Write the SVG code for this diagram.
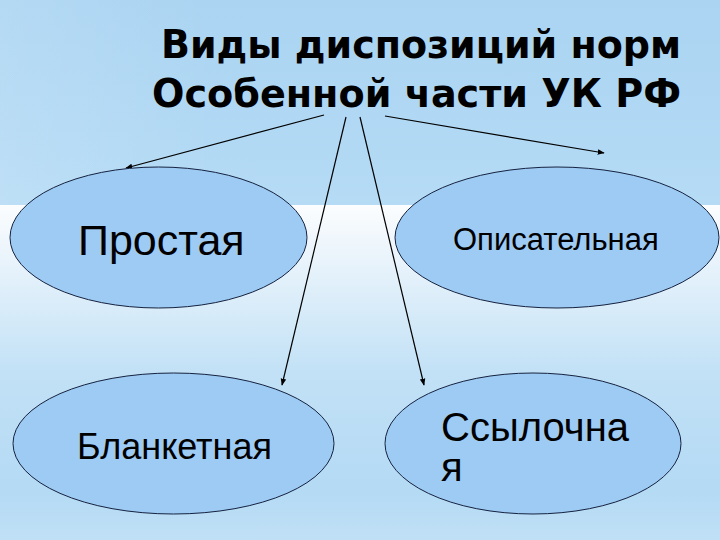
<svg xmlns="http://www.w3.org/2000/svg" width="720" height="540" viewBox="0 0 720 540">
  <defs>
    <linearGradient id="bgTop" x1="0" y1="0" x2="0" y2="1">
      <stop offset="0" stop-color="#aad4f2"/>
      <stop offset="1" stop-color="#b5dbf5"/>
    </linearGradient>
    <linearGradient id="bgLeft" x1="0" y1="0" x2="1" y2="0">
      <stop offset="0" stop-color="#ffffff" stop-opacity="0.12"/>
      <stop offset="0.3" stop-color="#ffffff" stop-opacity="0"/>
    </linearGradient>
    <linearGradient id="bgBottom" x1="0" y1="0" x2="0" y2="1">
      <stop offset="0" stop-color="#fbfdfe"/>
      <stop offset="0.12" stop-color="#eef6fc"/>
      <stop offset="0.5" stop-color="#c2e1f6"/>
      <stop offset="0.85" stop-color="#b4daf4"/>
      <stop offset="1" stop-color="#c0e0f6"/>
    </linearGradient>
    <marker id="arrow" viewBox="0 0 10 10" refX="9" refY="5" markerWidth="7" markerHeight="7" markerUnits="userSpaceOnUse" orient="auto">
      <path d="M0,1 L10,5 L0,9 Z" fill="#000"/>
    </marker>
    <style>
      .node ellipse { fill: #9ecbf4; stroke: #15223f; stroke-width: 1; }
      .label { font-family: "Liberation Sans", Arial, sans-serif; fill: #000; }
      .title { font-family: "DejaVu Sans Condensed", "DejaVu Sans", sans-serif; font-stretch: condensed; font-weight: 700; font-size: 39px; fill: #000; }
      .conn line { stroke: #000; stroke-width: 1.2; marker-end: url(#arrow); }
    </style>
  </defs>

  <rect x="0" y="0" width="720" height="205" fill="url(#bgTop)"/>
  <rect x="0" y="0" width="720" height="205" fill="url(#bgLeft)"/>
  <rect x="0" y="205" width="720" height="335" fill="url(#bgBottom)"/>

  <g id="title">
    <text class="title" x="681" y="58" text-anchor="end" textLength="520" lengthAdjust="spacingAndGlyphs">Виды диспозиций норм</text>
    <text class="title" x="681" y="107" text-anchor="end" textLength="529" lengthAdjust="spacingAndGlyphs">Особенной части УК РФ</text>
  </g>

  <g id="connectors" class="conn">
    <line x1="324" y1="115" x2="126" y2="168"/>
    <line x1="385" y1="116" x2="604" y2="153"/>
    <line x1="346" y1="117" x2="282" y2="385"/>
    <line x1="360" y1="117" x2="424" y2="385"/>
  </g>

  <g id="node-prostaya" class="node">
    <ellipse cx="158.5" cy="237.5" rx="148.5" ry="70.5"/>
    <text class="label" x="78" y="255" font-size="43">Простая</text>
  </g>

  <g id="node-opisatelnaya" class="node">
    <ellipse cx="557" cy="237.5" rx="162" ry="70.5"/>
    <text class="label" x="453" y="250" font-size="31">Описательная</text>
  </g>

  <g id="node-blanketnaya" class="node">
    <ellipse cx="173.5" cy="443.5" rx="160.5" ry="70.5"/>
    <text class="label" x="77" y="459" font-size="36">Бланкетная</text>
  </g>

  <g id="node-ssylochnaya" class="node">
    <ellipse cx="533" cy="443.5" rx="148" ry="70.5"/>
    <text class="label" x="441" y="441" font-size="40">Ссылочна</text>
    <text class="label" x="441" y="481" font-size="40">я</text>
  </g>
</svg>
